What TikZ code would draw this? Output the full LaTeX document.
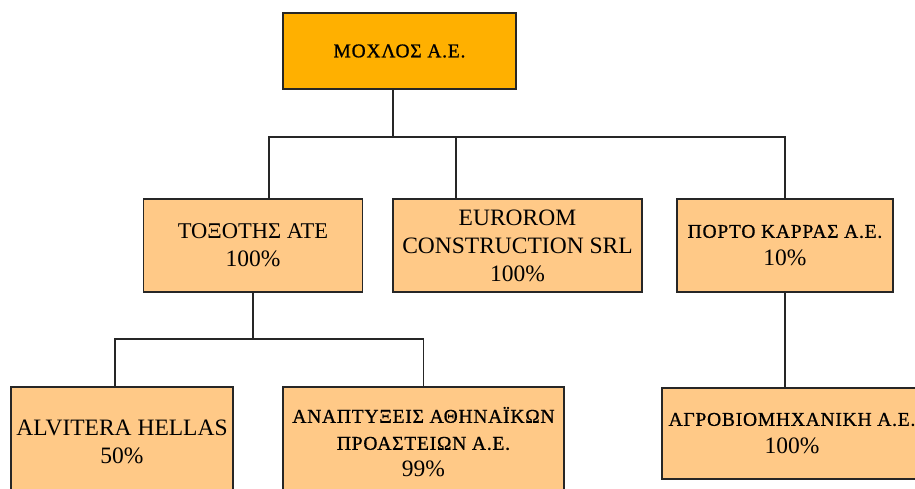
\documentclass[tikz,border=0pt]{standalone}
\usepackage{fontspec}
\setmainfont{Liberation Serif}
\newfontfamily\grfont{Liberation Serif}[LetterSpace=4,FakeBold=0.8]
\usepackage{tikz}

\definecolor{headorange}{RGB}{255,176,0}
\definecolor{boxorange}{RGB}{255,201,135}

\begin{document}
\begin{tikzpicture}[x=1pt, y=-1pt, every node/.style={font=\fontsize{23.5}{28}\selectfont}, box/.style={draw=black!85,line width=1.8pt,fill=boxorange,align=center,inner sep=0pt,minimum height=93pt}, headbox/.style={box,fill=headorange,minimum height=76pt}, gr/.style={font=\grfont\fontsize{19.5}{27}\selectfont}, link/.style={draw=black!85,line width=1.8pt}]
\clip (0,0) rectangle (915,488);
\node[headbox,gr,minimum width=233pt] (moxlos) at (399.5,51) {ΜΟΧΛΟΣ Α.Ε.};
\node[box,minimum width=219pt] (toxotis) at (253,245.5) {{\fontsize{22.5}{28}\selectfont ΤΟΞΟΤΗΣ ΑΤΕ}\\100\%};
\node[box,minimum width=249pt] (eurorom) at (517.5,245.5) {EUROROM\\CONSTRUCTION SRL\\100\%};
\node[box,minimum width=216pt] (porto) at (785,245.5) {{\grfont\fontsize{19.5}{27}\selectfont ΠΟΡΤΟ ΚΑΡΡΑΣ Α.Ε.}\\10\%};
\node[box,minimum width=222pt,minimum height=110pt] (alvitera) at (122,442) {ALVITERA HELLAS\\50\%};
\node[box,minimum width=281pt,minimum height=110pt,font=\fontsize{23.5}{27}\selectfont] (anapt) at (423.5,442) {{\grfont\fontsize{19.5}{27}\selectfont ΑΝΑΠΤΥΞΕΙΣ ΑΘΗΝΑΪΚΩΝ}\\{\grfont\fontsize{19.5}{27}\selectfont ΠΡΟΑΣΤΕΙΩΝ Α.Ε.}\\99\%};
\node[box,minimum width=260pt,minimum height=91pt] (agro) at (792,433.5) {{\grfont\fontsize{19.5}{27}\selectfont ΑΓΡΟΒΙΟΜΗΧΑΝΙΚΗ Α.Ε.}\\100\%};
% connectors
\coordinate (busA) at (393,137);
\coordinate (busB) at (253,339);
\draw[link] ([xshift=-6.5pt]moxlos.south) -- (busA);
\draw[link] ([xshift=16pt]toxotis.north) |- (busA) -| (porto.north);
\draw[link] ([xshift=-61.5pt]eurorom.north) -- ([xshift=-61.5pt]eurorom.north |- busA);
\draw[link] (toxotis.south) -- (busB);
\draw[link] ([xshift=-7pt]alvitera.north) |- (busB) -| (anapt.north);
\draw[link] (porto.south) -- (porto.south |- agro.north);
\end{tikzpicture}
\end{document}
